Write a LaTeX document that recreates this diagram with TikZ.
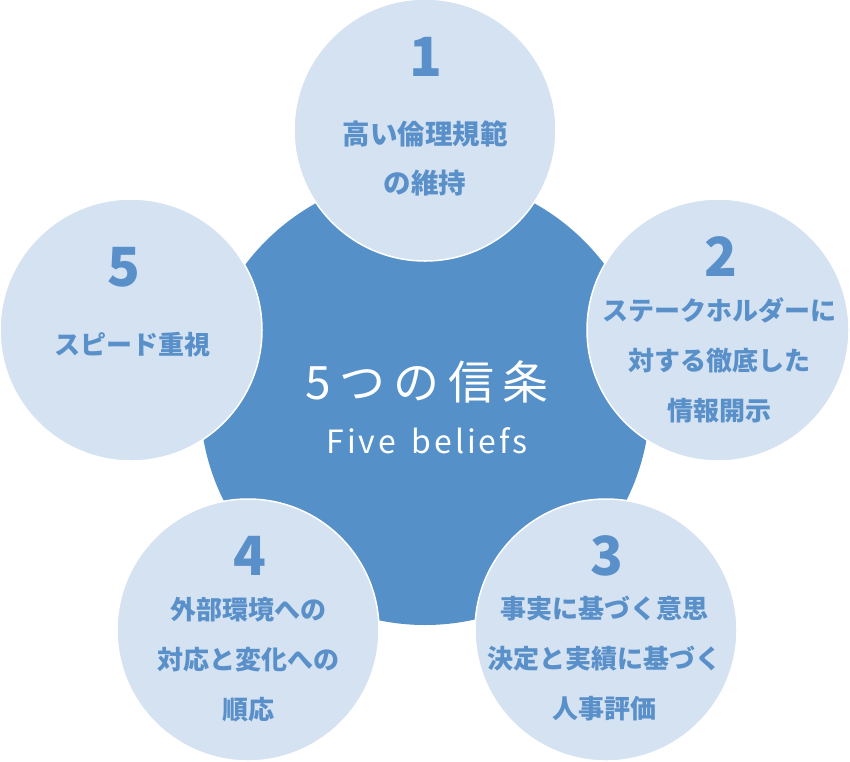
\documentclass[tikz,border=0pt]{standalone}
\usepackage{fontspec}
\newfontfamily\jp{Noto Sans CJK JP}
\newfontfamily\jptitle{Noto Sans CJK JP}[LetterSpace=18]
\newfontfamily\jpsub{Noto Sans CJK JP}[LetterSpace=9]
\definecolor{mainblue}{HTML}{5590C8}
\definecolor{lightblue}{HTML}{D4E2F1}
\definecolor{textblue}{HTML}{5A90C9}
\begin{document}
\begin{tikzpicture}[x=1pt,y=-1pt,
  bigcircle/.style={circle,fill=mainblue,minimum size=450pt,inner sep=0pt},
  small/.style={circle,fill=lightblue,draw=white,line width=1.5pt,minimum size=262pt,inner sep=0pt},
  num/.style={text=textblue,inner sep=0pt,font=\jp\bfseries\fontsize{54}{54}\selectfont},
  belief/.style={text=textblue,inner sep=0pt,align=center,font=\jp\bfseries\fontsize{26}{50}\selectfont},
  bigbelief/.style={belief,font=\jp\bfseries\fontsize{27.5}{49}\selectfont},
  title/.style={text=white,inner sep=0pt,anchor=base,font=\jptitle\fontsize{46}{46}\selectfont},
  subtitle/.style={text=white,inner sep=0pt,anchor=base,font=\jpsub\fontsize{32}{32}\selectfont}]
\useasboundingbox (0,0) rectangle (850,761);
\node[bigcircle] (big) at (425,400) {};
\node[small] (c1) at (425,130) {};
\node[small] (c2) at (718,330) {};
\node[small] (c3) at (606,630) {};
\node[small] (c4) at (248,630) {};
\node[small] (c5) at (131,330) {};
\node[title] (ttl) at (427,399) {5つの信条};
\node[subtitle] (sub) at (427,453) {Five\hspace{6pt} beliefs};
\node[num] (n1) at (426,57) {1};
\node[bigbelief] (t1) at (425,158) {高い倫理規範\\の維持};
\node[num] (n2) at (721,257) {2};
\node[belief] (t2) at (719,360) {ステークホルダーに\\対する徹底した\\情報開示};
\node[num] (n3) at (607,556) {3};
\node[belief] (t3) at (604,659) {事実に基づく意思\\決定と実績に基づく\\人事評価};
\node[num] (n4) at (250,556) {4};
\node[belief] (t4) at (248,660) {外部環境への\\対応と変化への\\順応};
\node[num] (n5) at (124,267) {5};
\node[belief] (t5) at (132,345) {スピード重視};
\end{tikzpicture}
\end{document}
